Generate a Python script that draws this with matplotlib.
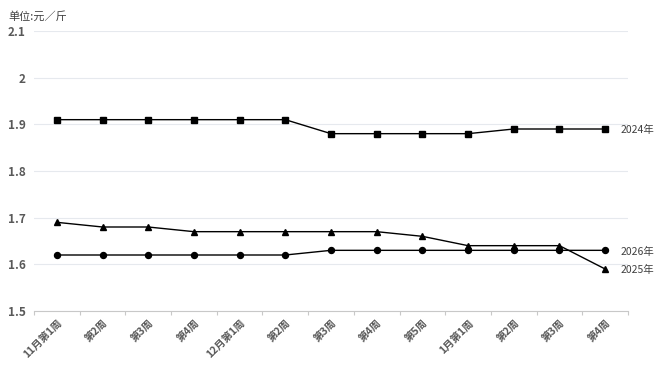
import matplotlib
matplotlib.use("Agg")
import matplotlib.pyplot as plt

plt.rcParams['font.family'] = ['Noto Sans CJK SC', 'DejaVu Sans']

categories = ["11月第1周", "第2周", "第3周", "第4周", "12月第1周", "第2周", "第3周",
              "第4周", "第5周", "1月第1周", "第2周", "第3周", "第4周"]
y2024 = [1.91, 1.91, 1.91, 1.91, 1.91, 1.91, 1.88, 1.88, 1.88, 1.88, 1.89, 1.89, 1.89]
y2025 = [1.69, 1.68, 1.68, 1.67, 1.67, 1.67, 1.67, 1.67, 1.66, 1.64, 1.64, 1.64, 1.59]
y2026 = [1.62, 1.62, 1.62, 1.62, 1.62, 1.62, 1.63, 1.63, 1.63, 1.63, 1.63, 1.63, 1.63]
series = [("2024年", y2024, "s"), ("2025年", y2025, "^"), ("2026年", y2026, "o")]
yticks = [1.5, 1.6, 1.7, 1.8, 1.9, 2.0, 2.1]
ytick_labels = ["1.5", "1.6", "1.7", "1.8", "1.9", "2", "2.1"]

fig = plt.figure(figsize=(6.64, 3.73), dpi=100)
ax = fig.add_axes([34/664, 1-311/373, (628-34)/664, (311-31)/373])

x = list(range(len(categories)))
for name, vals, mk in series:
    ax.plot(x, vals, color="black", lw=1.0, marker=mk, markersize=4.3, zorder=3)
    ax.annotate(name, (x[-1], vals[-1]), xytext=(11, -1), textcoords="offset points",
                va="center", ha="left", fontsize=7.5, color="#404040")

ax.set_xlim(-0.5, len(categories) - 0.5)
ax.set_ylim(1.5, 2.1)
ax.set_yticks(yticks)
ax.set_yticklabels(ytick_labels)
ax.yaxis.grid(True, color="#e6e9ee", lw=0.8)
ax.set_axisbelow(True)
for s in ["top", "right", "left"]:
    ax.spines[s].set_visible(False)
ax.spines["bottom"].set_color("#c8c8c8")
ax.tick_params(axis="y", length=0, labelsize=8.5, labelcolor="#595959", pad=6)
for lab in ax.get_yticklabels():
    lab.set_fontweight("bold")

ax.set_xticks([i - 0.5 for i in range(len(categories) + 1)], minor=False)
ax.set_xticklabels([])
ax.set_xticks(x, minor=True)
ax.set_xticklabels(categories, minor=True, rotation=45, ha="right", rotation_mode="anchor",
                   fontsize=7.5, color="#595959", fontweight="bold")
ax.tick_params(axis="x", which="major", length=3, color="#c8c8c8", direction="out")
ax.tick_params(axis="x", which="minor", length=0, pad=5)

fig.text(8/664, 1-16/373, "单位:元／斤", fontsize=8, color="#404040", va="center", ha="left")

fig.savefig("out.png", dpi=100)
